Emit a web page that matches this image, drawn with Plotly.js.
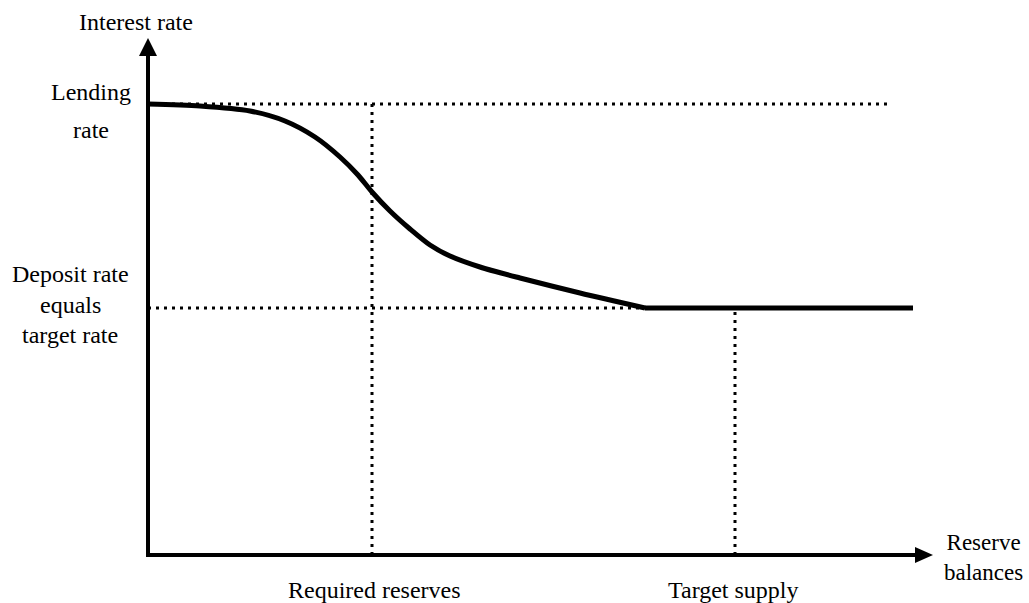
<!DOCTYPE html>
<html>
<head>
<meta charset="utf-8">
<script src="https://cdn.plot.ly/plotly-3.0.1.min.js"></script>
<style>html,body{margin:0;padding:0;background:#fff;}#chart{width:1029px;height:603px;}</style>
</head>
<body>
<div id="chart"></div>
<script>
// Demand curve for reserves (units: arbitrary, origin at axes corner)
const curveX = [0, 52, 102, 137, 167, 192, 210, 224, 242, 262, 282, 302, 332, 372, 432, 497];
const curveY = [451, 449, 444, 434, 418, 398, 380, 363, 344, 326, 310, 299, 288, 277, 262, 247];
const flatX = [497, 765];
const flatY = [247, 247];

const lendingRate = 451;
const depositRate = 247;
const requiredReserves = 224;
const targetSupply = 587;
const kinkX = 497;
const lendingDotEnd = 739;
const axisXEnd = 785;
const axisYEnd = 517;

const font = {family: "Liberation Serif", size: 24, color: "#000"};
const dotted = {color: "#000", width: 3, dash: "3px,5px"};

const traces = [
  {x: [0, lendingDotEnd], y: [lendingRate, lendingRate], mode: "lines", line: dotted, hoverinfo: "skip"},
  {x: [requiredReserves, requiredReserves], y: [0, lendingRate], mode: "lines", line: dotted, hoverinfo: "skip"},
  {x: [0, kinkX], y: [depositRate, depositRate], mode: "lines", line: dotted, hoverinfo: "skip"},
  {x: [targetSupply, targetSupply], y: [0, depositRate], mode: "lines", line: dotted, hoverinfo: "skip"},
  {x: curveX, y: curveY, mode: "lines", line: {color: "#000", width: 5, shape: "spline", smoothing: 0.8}, hoverinfo: "skip"},
  {x: flatX, y: flatY, mode: "lines", line: {color: "#000", width: 5}, hoverinfo: "skip"}
];

const shapes = [
  {type: "line", x0: 0, y0: -2, x1: 0, y1: axisYEnd - 16, line: {color: "#000", width: 4}},
  {type: "line", x0: -2, y0: 0, x1: axisXEnd - 16, y1: 0, line: {color: "#000", width: 4}},
  {type: "path", path: `M -9 ${axisYEnd-18} L 9 ${axisYEnd-18} L 0 ${axisYEnd} Z`, fillcolor: "#000", line: {width: 0}},
  {type: "path", path: `M ${axisXEnd-18} -8 L ${axisXEnd-18} 8 L ${axisXEnd} 0 Z`, fillcolor: "#000", line: {width: 0}}
];

const annotations = [
  {x: -12, y: 533, text: "Interest rate"},
  {x: -57, y: 463, text: "Lending"},
  {x: -57, y: 425, text: "rate"},
  {x: -78, y: 281, text: "Deposit rate"},
  {x: -78, y: 250, text: "equals"},
  {x: -78, y: 220, text: "target rate"},
  {x: requiredReserves + 2, y: -35, text: "Required reserves"},
  {x: targetSupply - 2, y: -35, text: "Target supply"},
  {x: 835, y: -2, text: "Reserve<br>balances", font: {family: "Liberation Serif", size: 23, color: "#000"}}
].map(a => Object.assign({xref: "x", yref: "y", showarrow: false, font: font}, a));

const layout = {
  width: 1029, height: 603,
  margin: {l: 0, r: 0, t: 0, b: 0},
  paper_bgcolor: "#fff", plot_bgcolor: "#fff",
  showlegend: false,
  xaxis: {range: [-148, 881], visible: false, fixedrange: true},
  yaxis: {range: [-48, 555], visible: false, fixedrange: true},
  shapes: shapes,
  annotations: annotations
};

Plotly.newPlot("chart", traces, layout, {displayModeBar: false, staticPlot: true});
</script>
</body>
</html>
